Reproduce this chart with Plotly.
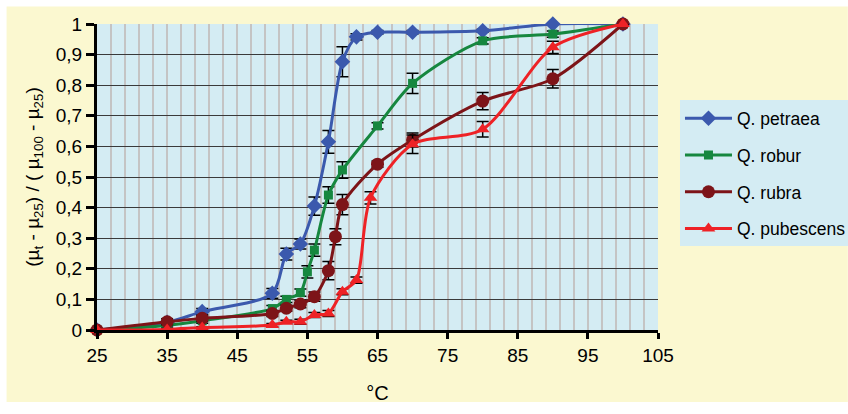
import plotly.graph_objects as go

# Temperature steps (°C) and normalised values for each oak species
x_petraea = [25, 35, 40, 50, 52, 54, 56, 58, 60, 62, 65, 70, 80, 90, 100]
y_petraea = [0, 0.025, 0.06, 0.12, 0.248, 0.281, 0.405, 0.615, 0.877, 0.958, 0.973, 0.973, 0.978, 1.0, 1.0]
e_petraea = [0, 0.005, 0.01, 0.016, 0.019, 0.016, 0.03, 0.037, 0.049, 0.01, 0.006, 0.006, 0.005, 0, 0]

x_robur = [25, 35, 40, 50, 52, 54, 55, 56, 58, 60, 65, 70, 80, 90, 100]
y_robur = [0, 0.015, 0.03, 0.07, 0.10, 0.122, 0.19, 0.261, 0.441, 0.523, 0.667, 0.806, 0.945, 0.967, 1.0]
e_robur = [0, 0.005, 0.008, 0.01, 0.01, 0.012, 0.02, 0.02, 0.027, 0.027, 0.01, 0.033, 0.01, 0.01, 0]

x_rubra = [25, 35, 40, 50, 52, 54, 56, 58, 59, 60, 65, 70, 80, 90, 100]
y_rubra = [0, 0.027, 0.038, 0.054, 0.071, 0.085, 0.109, 0.194, 0.305, 0.41, 0.542, 0.621, 0.748, 0.821, 1.0]
e_rubra = [0, 0.01, 0.01, 0.01, 0.01, 0.012, 0.015, 0.03, 0.026, 0.033, 0.01, 0.023, 0.028, 0.03, 0]

x_pubescens = [25, 35, 40, 50, 52, 54, 56, 58, 60, 62, 64, 70, 80, 90, 100]
y_pubescens = [0, 0.002, 0.008, 0.016, 0.027, 0.027, 0.049, 0.054, 0.125, 0.163, 0.432, 0.607, 0.656, 0.924, 1.0]
e_pubescens = [0, 0.003, 0.003, 0.005, 0.005, 0.008, 0.008, 0.01, 0.01, 0.01, 0.02, 0.03, 0.025, 0.02, 0]

series = [
    ("Q. petraea", x_petraea, y_petraea, e_petraea, "#3b59ad", "diamond", 12),
    ("Q. robur", x_robur, y_robur, e_robur, "#16873f", "square", 9),
    ("Q. rubra", x_rubra, y_rubra, e_rubra, "#7d1418", "circle", 13),
    ("Q. pubescens", x_pubescens, y_pubescens, e_pubescens, "#ee2226", "triangle-up", 12),
]

FONT = "Liberation Sans, Arial, sans-serif"
PLOT_BG = "#d4ecf3"
PAPER_BG = "#fbf8d0"

fig = go.Figure()
for name, xs, ys, es, color, symbol, size in series:
    fig.add_trace(go.Scatter(
        x=xs, y=ys, name=name, mode="lines+markers",
        legendgroup=name,
        line=dict(color=color, width=3, shape="spline", smoothing=0.8),
        marker=dict(symbol=symbol, size=size, color=color),
        error_y=dict(type="data", array=es, visible=True,
                     color="black", thickness=1.5, width=6),
        cliponaxis=False,
    ))

L, R, T, B = 96.5, 190, 23.5, 84
PW, PH = 848 - L - R, 414 - T - B

fig.update_layout(
    width=848, height=414,
    margin=dict(l=L, r=R, t=T, b=B, pad=0, autoexpand=False),
    paper_bgcolor="white",
    plot_bgcolor=PLOT_BG,
    separators=", ",
    font=dict(family=FONT, size=19, color="black"),
    showlegend=True,
    legend=dict(
        x=(680 - L) / PW, y=(414 - B - 100) / PH, xanchor="left", yanchor="top",
        bgcolor=PLOT_BG, borderwidth=0,
        font=dict(family=FONT, size=17.5, color="black"),
        traceorder="grouped", tracegroupgap=11, itemwidth=47,
    ),
    xaxis=dict(
        range=[25, 105], tick0=25, dtick=10,
        showline=True, linecolor="black", linewidth=3,
        ticks="outside", ticklen=6, tickwidth=3, tickcolor="black",
        showgrid=True, gridcolor="#c4c4c4", gridwidth=1.5,
        zeroline=False,
        minor=dict(tick0=25, dtick=2, showgrid=True,
                   gridcolor="#c4c4c4", gridwidth=1.5, ticks=""),
        title=dict(text="°C", font=dict(size=20), standoff=22),
    ),
    yaxis=dict(
        range=[0, 1], tick0=0, dtick=0.1,
        showline=True, linecolor="black", linewidth=3,
        ticks="outside", ticklen=8, tickwidth=3, tickcolor="black",
        showgrid=True, gridcolor="#3a3a3a", gridwidth=1.2,
        zeroline=False,
        title=dict(text="(µ<sub>t</sub> - µ<sub>25</sub>) / ( µ<sub>100</sub> - µ<sub>25</sub>)",
                   font=dict(size=19), standoff=12),
    ),
)

# Light yellow chart area, then the light blue plotting area on top of it
fig.add_shape(type="rect", xref="paper", yref="paper", layer="below",
              x0=(6 - L) / PW, x1=(848 - L) / PW,
              y0=(414 - B - 402) / PH, y1=(414 - B - 6) / PH,
              fillcolor=PAPER_BG, line=dict(width=0))
fig.add_shape(type="rect", xref="paper", yref="paper", layer="below",
              x0=0, x1=1, y0=0, y1=1,
              fillcolor=PLOT_BG, line=dict(width=0))

fig.write_html("out.html")
